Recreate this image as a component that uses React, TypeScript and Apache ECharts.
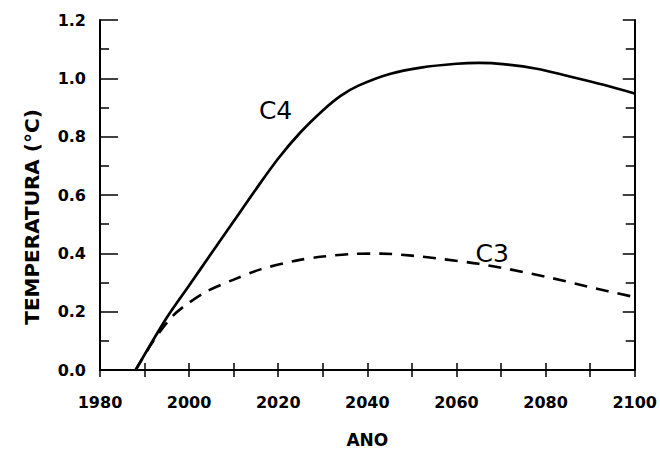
import React, { useEffect, useRef } from "react";
import * as echarts from "echarts";

const xTicks = [1980, 2000, 2020, 2040, 2060, 2080, 2100];
const yTicks = [0, 0.2, 0.4, 0.6, 0.8, 1.0, 1.2];

const c4Years = [1988, 1995, 2000, 2005, 2010, 2015, 2020, 2025, 2030, 2034, 2038, 2045, 2052, 2060, 2065, 2071, 2078, 2085, 2093, 2100];
const c4Values = [0.0, 0.18, 0.29, 0.4, 0.51, 0.62, 0.725, 0.815, 0.89, 0.94, 0.975, 1.015, 1.037, 1.05, 1.053, 1.048, 1.033, 1.008, 0.978, 0.948];

const c3Years = [1988, 1992, 1996, 1999, 2004, 2010, 2016, 2024, 2030, 2037, 2043, 2050, 2057, 2065, 2072, 2080, 2087, 2094, 2100];
const c3Values = [0.0, 0.1, 0.18, 0.22, 0.27, 0.31, 0.345, 0.375, 0.389, 0.398, 0.399, 0.392, 0.38, 0.364, 0.345, 0.32, 0.295, 0.27, 0.25];

const seriesNames = ["C4", "C3"];
const labelPos = [
  [2019.4, 0.89],
  [2068, 0.4],
];

const FONT = "DejaVu Sans";

export default function App() {
  const ref = useRef<HTMLDivElement>(null);
  useEffect(() => {
    if (!ref.current) return;
    const chart = echarts.init(ref.current, null, { renderer: "svg" });
    const axisLabelStyle = {
      color: "#000",
      fontFamily: FONT,
      fontWeight: "bold" as const,
      fontSize: 16,
    };
    const c4 = c4Years.map((y, i) => [y, c4Values[i]]);
    const c3 = c3Years.map((y, i) => [y, c3Values[i]]);
    const mk = (name: string, coord: number[]) => ({
      symbol: "circle",
      symbolSize: 0,
      silent: true,
      label: {
        show: true,
        position: "inside",
        formatter: name,
        color: "#000",
        fontFamily: FONT,
        fontSize: 25,
      },
      data: [{ coord }],
    });
    const tickStyle = { color: "#000", width: 1.5 };
    chart.setOption({
      animation: false,
      backgroundColor: "#fff",
      grid: { left: 100, right: 21, top: 20, bottom: 80 },
      xAxis: [
        {
          type: "value",
          position: "bottom",
          min: xTicks[0],
          max: xTicks[xTicks.length - 1],
          interval: 20,
          axisLine: { show: true, lineStyle: { color: "#000", width: 2 } },
          axisTick: { show: true, inside: true, length: 7, lineStyle: tickStyle },
          minorTick: { show: true, splitNumber: 2, length: 7, lineStyle: tickStyle },
          splitLine: { show: false },
          axisLabel: { ...axisLabelStyle, margin: 24, formatter: (v: number) => String(v) },
          name: "ANO",
          nameLocation: "middle",
          nameGap: 61,
          nameTextStyle: { ...axisLabelStyle, fontSize: 17 },
        },
        {
          type: "value",
          position: "top",
          min: xTicks[0],
          max: xTicks[xTicks.length - 1],
          interval: 20,
          axisLine: { show: true, lineStyle: { color: "#000", width: 2 } },
          axisTick: { show: true, inside: true, length: 7, lineStyle: tickStyle },
          minorTick: { show: true, splitNumber: 2, length: 7, lineStyle: tickStyle },
          splitLine: { show: false },
          axisLabel: { show: false },
        },
      ],
      yAxis: [
        {
          type: "value",
          position: "left",
          min: yTicks[0],
          max: yTicks[yTicks.length - 1],
          interval: 0.2,
          axisLine: { show: true, lineStyle: { color: "#000", width: 2 } },
          axisTick: { show: true, inside: true, length: 18, lineStyle: tickStyle },
          minorTick: { show: true, splitNumber: 2, length: 9, lineStyle: tickStyle },
          splitLine: { show: false },
          axisLabel: { ...axisLabelStyle, margin: 14, formatter: (v: number) => v.toFixed(1) },
          name: "TEMPERATURA (°C)",
          nameLocation: "middle",
          nameRotate: 90,
          nameGap: 58,
          nameTextStyle: { ...axisLabelStyle, fontSize: 20, padding: [0, 44, 0, 0] },
        },
        {
          type: "value",
          position: "right",
          min: yTicks[0],
          max: yTicks[yTicks.length - 1],
          interval: 0.2,
          axisLine: { show: true, lineStyle: { color: "#000", width: 2 } },
          axisTick: { show: true, inside: true, length: 12, lineStyle: tickStyle },
          minorTick: { show: true, splitNumber: 2, length: 9, lineStyle: tickStyle },
          splitLine: { show: false },
          axisLabel: { show: false },
        },
      ],
      series: [
        {
          name: seriesNames[0],
          type: "line",
          data: c4,
          showSymbol: false,
          smooth: 0.3,
          lineStyle: { color: "#000", width: 2.7 },
          markPoint: mk(seriesNames[0], labelPos[0]),
        },
        {
          name: seriesNames[1],
          type: "line",
          data: c3,
          showSymbol: false,
          smooth: 0.3,
          lineStyle: { color: "#000", width: 2.6, type: [13, 9] },
          markPoint: mk(seriesNames[1], labelPos[1]),
        },
      ],
    });
    return () => chart.dispose();
  }, []);
  return (
    <div
      ref={ref}
      style={{ position: "fixed", left: 0, top: 0, width: 660, height: 453, background: "#fff" }}
    />
  );
}
